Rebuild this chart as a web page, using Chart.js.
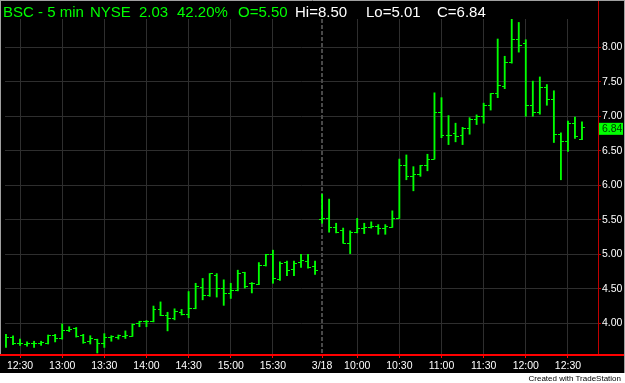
<!DOCTYPE html>
<html>
<head>
<meta charset="utf-8">
<script src="https://cdn.jsdelivr.net/npm/chart.js@4"></script>
<style>
  html, body { margin: 0; padding: 0; background: #000; overflow: hidden; }
  #wrap { position: relative; width: 625px; height: 383px; }
  #bsc-chart { position: absolute; left: 0; top: 0; }
  .hdr { position: absolute; top: 4px; font: 15px/15px 'Liberation Sans', Arial, sans-serif; white-space: nowrap; }
  .green { color: #00ff00; }
  .white { color: #ffffff; }
  #credit { position: absolute; right: 4px; top: 374px; font: 8px/9px 'Liberation Sans', Arial, sans-serif; color: #000; white-space: nowrap; }
</style>
</head>
<body>
<div id="wrap">
  <canvas id="bsc-chart" width="625" height="383"></canvas>
  <span class="hdr green" style="left:3px">BSC - 5 min</span>
  <span class="hdr green" style="left:90px">NYSE</span>
  <span class="hdr green" style="left:139px">2.03</span>
  <span class="hdr green" style="left:177px">42.20%</span>
  <span class="hdr green" style="left:238px">O=5.50</span>
  <span class="hdr white" style="left:295px">Hi=8.50</span>
  <span class="hdr white" style="left:366px">Lo=5.01</span>
  <span class="hdr white" style="left:437px">C=6.84</span>
  <div id="credit">Created with TradeStation</div>
</div>
<script>
// 5 minute bars, 3/17 afternoon then 3/18 morning
const BAR_TIMES = [
  '3/17 12:20', '3/17 12:25', '3/17 12:30', '3/17 12:35', '3/17 12:40', '3/17 12:45', '3/17 12:50', '3/17 12:55',
  '3/17 13:00', '3/17 13:05', '3/17 13:10', '3/17 13:15', '3/17 13:20', '3/17 13:25', '3/17 13:30', '3/17 13:35',
  '3/17 13:40', '3/17 13:45', '3/17 13:50', '3/17 13:55', '3/17 14:00', '3/17 14:05', '3/17 14:10', '3/17 14:15',
  '3/17 14:20', '3/17 14:25', '3/17 14:30', '3/17 14:35', '3/17 14:40', '3/17 14:45', '3/17 14:50', '3/17 14:55',
  '3/17 15:00', '3/17 15:05', '3/17 15:10', '3/17 15:15', '3/17 15:20', '3/17 15:25', '3/17 15:30', '3/17 15:35',
  '3/17 15:40', '3/17 15:45', '3/17 15:50', '3/17 15:55', '3/17 16:00',
  '3/18 09:35', '3/18 09:40', '3/18 09:45', '3/18 09:50', '3/18 09:55', '3/18 10:00', '3/18 10:05', '3/18 10:10',
  '3/18 10:15', '3/18 10:20', '3/18 10:25', '3/18 10:30', '3/18 10:35', '3/18 10:40', '3/18 10:45', '3/18 10:50',
  '3/18 10:55', '3/18 11:00', '3/18 11:05', '3/18 11:10', '3/18 11:15', '3/18 11:20', '3/18 11:25', '3/18 11:30',
  '3/18 11:35', '3/18 11:40', '3/18 11:45', '3/18 11:50', '3/18 11:55', '3/18 12:00', '3/18 12:05', '3/18 12:10',
  '3/18 12:15', '3/18 12:20', '3/18 12:25', '3/18 12:30', '3/18 12:35', '3/18 12:40',
];

const OPEN = [
  3.68, 3.79, 3.70, 3.69, 3.70, 3.71, 3.71, 3.83, 3.78, 3.90,
  3.92, 3.82, 3.73, 3.77, 3.70, 3.80, 3.80, 3.81, 3.81, 3.99,
  4.03, 4.03, 4.20, 4.12, 4.07, 4.16, 4.13, 4.22, 4.52, 4.40,
  4.69, 4.50, 4.43, 4.48, 4.73, 4.57, 4.56, 4.84, 5.00, 4.63,
  4.88, 4.78, 4.88, 4.90, 4.83,
  5.50, 5.52, 5.39, 5.34, 5.16, 5.32, 5.38, 5.39, 5.40, 5.38,
  5.39, 5.52, 6.29, 6.13, 6.15, 6.28, 6.38, 7.06, 6.72, 6.75,
  6.72, 6.82, 6.95, 7.00, 7.16, 7.33, 7.43, 7.78, 8.11, 8.05,
  7.16, 7.05, 7.42, 7.25, 6.74, 6.64, 6.90, 6.67,
];
const HIGH = [
  3.84, 3.82, 3.77, 3.73, 3.74, 3.74, 3.83, 3.84, 3.99, 3.95,
  3.94, 3.84, 3.82, 3.77, 3.85, 3.82, 3.83, 3.89, 3.99, 4.03,
  4.04, 4.25, 4.31, 4.16, 4.21, 4.20, 4.46, 4.58, 4.65, 4.72,
  4.72, 4.63, 4.58, 4.77, 4.74, 4.59, 4.88, 5.00, 5.06, 4.89,
  4.90, 4.90, 5.00, 5.00, 4.90,
  5.87, 5.80, 5.45, 5.38, 5.34, 5.52, 5.45, 5.47, 5.43, 5.43,
  5.63, 6.38, 6.44, 6.27, 6.29, 6.45, 7.34, 7.27, 7.01, 6.90,
  6.84, 6.98, 7.02, 7.19, 7.33, 8.12, 7.87, 8.41, 8.36, 8.11,
  7.51, 7.57, 7.46, 7.37, 6.76, 6.93, 6.99, 6.92,
];
const LOW = [
  3.65, 3.69, 3.68, 3.67, 3.65, 3.68, 3.70, 3.73, 3.77, 3.88,
  3.80, 3.71, 3.70, 3.57, 3.65, 3.74, 3.77, 3.78, 3.81, 3.95,
  3.95, 4.02, 4.11, 3.89, 4.05, 4.12, 4.08, 4.21, 4.34, 4.39,
  4.38, 4.26, 4.36, 4.47, 4.51, 4.44, 4.56, 4.83, 4.58, 4.62,
  4.69, 4.69, 4.81, 4.80, 4.71,
  5.45, 5.32, 5.31, 5.16, 5.01, 5.31, 5.30, 5.38, 5.29, 5.29,
  5.39, 5.52, 6.08, 5.92, 6.13, 6.21, 6.38, 6.69, 6.59, 6.63,
  6.59, 6.74, 6.88, 6.90, 7.09, 7.27, 7.40, 7.77, 7.93, 7.00,
  7.00, 7.03, 7.16, 6.62, 6.08, 6.49, 6.68, 6.66,
];
const CLOSE = [
  3.79, 3.70, 3.70, 3.70, 3.71, 3.72, 3.83, 3.78, 3.89, 3.91,
  3.81, 3.72, 3.78, 3.70, 3.80, 3.81, 3.82, 3.83, 3.98, 4.02,
  4.03, 4.20, 4.12, 4.07, 4.17, 4.13, 4.22, 4.53, 4.40, 4.72,
  4.50, 4.43, 4.48, 4.72, 4.54, 4.58, 4.84, 4.99, 4.65, 4.86,
  4.77, 4.86, 4.91, 4.81, 4.76,
  5.52, 5.39, 5.32, 5.16, 5.32, 5.38, 5.39, 5.40, 5.38, 5.40,
  5.52, 6.29, 6.13, 6.16, 6.28, 6.38, 7.06, 6.72, 6.72, 6.70,
  6.82, 6.95, 7.00, 7.16, 7.33, 7.45, 7.78, 8.11, 8.03, 7.16,
  7.05, 7.42, 7.24, 6.74, 6.64, 6.90, 6.70, 6.84,
];

const TICK_BARS = [
  '3/17 12:30', '3/17 13:00', '3/17 13:30', '3/17 14:00', '3/17 14:30', '3/17 15:00', '3/17 15:30',
  '3/18 09:35', '3/18 10:00', '3/18 10:30', '3/18 11:00', '3/18 11:30', '3/18 12:00', '3/18 12:30',
];
const TICK_LABELS = ['12:30', '13:00', '13:30', '14:00', '14:30', '15:00', '15:30', '3/18', '10:00', '10:30', '11:00', '11:30', '12:00', '12:30'];
const PRICE_TICKS = [4.00, 4.50, 5.00, 5.50, 6.00, 6.50, 7.00, 7.50, 8.00];
const SESSION_START = '3/18 09:35';

const GREEN = '#00ff00';
const GRID = '#2e2e2e';
const FONT = "'Liberation Sans', Arial, sans-serif";

Chart.defaults.font.family = FONT;

const barIndex = (t) => BAR_TIMES.indexOf(t);

// little horizontal stubs used as point styles for the open (left) and close (right) marks
function stubImage(side) {
  const c = document.createElement('canvas');
  c.width = 6;
  c.height = 1;
  const g = c.getContext('2d');
  g.fillStyle = GREEN;
  g.fillRect(side === 'left' ? 0 : 3, 0, 3, 1);
  return c;
}

const chartFrame = {
  id: 'chartFrame',
  beforeDraw(chart) {
    const { ctx, width, height } = chart;
    ctx.save();
    ctx.fillStyle = '#000';
    ctx.fillRect(0, 0, width, height);
    ctx.fillStyle = '#fff';
    ctx.fillRect(0, 373, width, height - 373);
    ctx.restore();
  },
  beforeDatasetsDraw(chart) {
    const { ctx, chartArea, scales } = chart;
    const px = Math.round(scales.x.getPixelForValue(barIndex(SESSION_START)));
    ctx.save();
    ctx.strokeStyle = '#484848';
    ctx.lineWidth = 2;
    ctx.setLineDash([4, 2]);
    ctx.beginPath();
    ctx.moveTo(px, chartArea.top);
    ctx.lineTo(px, chartArea.bottom);
    ctx.stroke();
    ctx.restore();
  },
  afterDraw(chart) {
    const { ctx, chartArea, width, scales } = chart;
    ctx.save();
    ctx.strokeStyle = '#ff0000';
    ctx.lineWidth = 2;
    ctx.beginPath();
    ctx.moveTo(0, chartArea.bottom + 1);
    ctx.lineTo(width, chartArea.bottom + 1);
    ctx.stroke();

    ctx.strokeStyle = '#c00000';
    ctx.lineWidth = 1;
    ctx.beginPath();
    ctx.moveTo(chartArea.right + 0.5, 0);
    ctx.lineTo(chartArea.right + 0.5, chartArea.bottom);
    ctx.stroke();

    ctx.strokeStyle = '#a0a0a0';
    ctx.beginPath();
    ctx.moveTo(0, 0.5);
    ctx.lineTo(width, 0.5);
    ctx.moveTo(0.5, 0);
    ctx.lineTo(0.5, chartArea.bottom);
    ctx.moveTo(width - 0.5, 0);
    ctx.lineTo(width - 0.5, 373);
    ctx.stroke();

    // last price flag on the price axis
    const last = CLOSE[CLOSE.length - 1];
    const py = scales.y.getPixelForValue(last);
    ctx.fillStyle = '#00ff00';
    ctx.fillRect(chartArea.right + 1, py - 4.5, width - chartArea.right - 3, 12);
    ctx.fillStyle = '#003300';
    ctx.font = '10.5px ' + FONT;
    ctx.textBaseline = 'middle';
    ctx.textAlign = 'left';
    ctx.fillText(last.toFixed(2), chartArea.right + 4, py + 1.5);
    ctx.restore();
  },
};

const ctx = document.getElementById('bsc-chart');

new Chart(ctx, {
  type: 'bar',
  data: {
    datasets: [
      {
        type: 'bar',
        data: BAR_TIMES.map((t, i) => ({ x: i, y: [LOW[i], HIGH[i]] })),
        backgroundColor: GREEN,
        borderWidth: 0,
        barThickness: 1.2,
      },
      {
        type: 'scatter',
        data: OPEN.map((v, i) => ({ x: i, y: v })),
        pointStyle: stubImage('left'),
        radius: 3,
      },
      {
        type: 'scatter',
        data: CLOSE.map((v, i) => ({ x: i, y: v })),
        pointStyle: stubImage('right'),
        radius: 3,
      },
    ],
  },
  options: {
    responsive: false,
    animation: false,
    devicePixelRatio: 1,
    events: [],
    layout: { padding: { left: 2, top: 19, right: 0, bottom: 0 } },
    plugins: {
      legend: { display: false },
      tooltip: { enabled: false },
    },
    scales: {
      x: {
        type: 'linear',
        min: -0.14,
        max: 84.28,
        offset: false,
        afterBuildTicks: (scale) => {
          scale.ticks = TICK_BARS.map((t) => ({ value: barIndex(t) }));
        },
        afterFit: (scale) => { scale.height = 29; },
        grid: {
          offset: false,
          color: (c) => (c.tick && c.tick.value === barIndex(SESSION_START) ? 'rgba(0,0,0,0)' : GRID),
          tickColor: '#ff0000',
          tickLength: 4,
        },
        border: { display: false },
        ticks: {
          autoSkip: false,
          maxRotation: 0,
          padding: 2,
          color: '#ffffff',
          font: { size: 10.5 },
          callback: (value, index) => TICK_LABELS[index],
        },
      },
      y: {
        type: 'linear',
        position: 'right',
        min: 3.555,
        max: 8.41,
        afterBuildTicks: (scale) => {
          scale.ticks = PRICE_TICKS.map((v) => ({ value: v }));
        },
        afterFit: (scale) => { scale.width = 27; },
        grid: {
          color: GRID,
          tickColor: '#c00000',
          tickLength: 3,
        },
        border: { display: false },
        ticks: {
          padding: 1,
          color: '#ffffff',
          font: { size: 10.5 },
          callback: (value) => Number(value).toFixed(2),
        },
      },
    },
  },
  plugins: [chartFrame],
});
</script>
</body>
</html>
